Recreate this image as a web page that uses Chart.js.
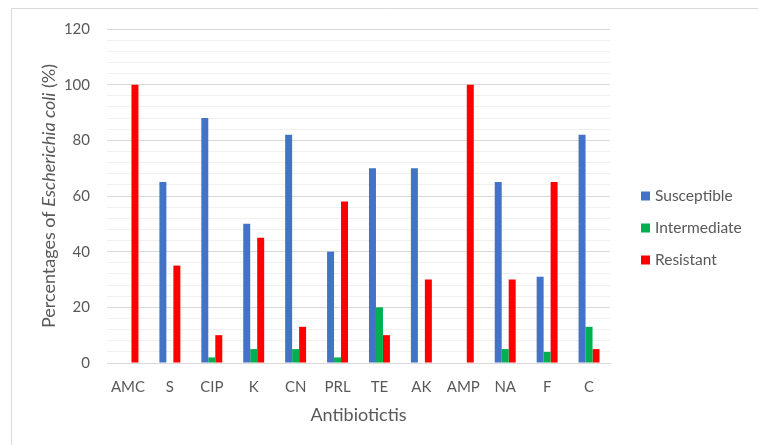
<!DOCTYPE html>
<html>
<head>
<meta charset="utf-8">
<script src="https://cdn.jsdelivr.net/npm/chart.js@4.4.1/dist/chart.umd.min.js"></script>
<style>
  html, body { margin: 0; padding: 0; background: #ffffff; }
  #wrap { position: relative; width: 758px; height: 445px; }
  canvas { display: block; }
</style>
</head>
<body>
<div id="wrap"><canvas id="chart" width="758" height="445"></canvas></div>
<script>
// Antibiotic susceptibility of Escherichia coli isolates (%)
const categories = ['AMC', 'S', 'CIP', 'K', 'CN', 'PRL', 'TE', 'AK', 'AMP', 'NA', 'F', 'C'];
const susceptible  = [0, 65, 88, 50, 82, 40, 70, 70, 0, 65, 31, 82];
const intermediate = [0, 0, 2, 5, 5, 2, 20, 0, 0, 5, 4, 13];
const resistant    = [100, 35, 10, 45, 13, 58, 10, 30, 100, 30, 65, 5];
const seriesNames  = ['Susceptible', 'Intermediate', 'Resistant'];
const yTickLabels  = [0, 20, 40, 60, 80, 100, 120];

const FONT = 'Lato, "Open Sans", sans-serif';
const TEXT = '#595959';

// Outer frame, axis titles (with italic species name) and the side legend
const decorations = {
  id: 'decorations',
  beforeDraw(chart) {
    const ctx = chart.ctx;
    ctx.save();
    ctx.strokeStyle = '#d9d9d9';
    ctx.lineWidth = 1;
    ctx.beginPath();
    ctx.moveTo(11.5, 445);
    ctx.lineTo(11.5, 8.5);
    ctx.lineTo(758, 8.5);
    ctx.stroke();
    ctx.restore();
  },
  afterDraw(chart) {
    const ctx = chart.ctx;
    const area = chart.chartArea;
    ctx.save();
    ctx.fillStyle = TEXT;
    ctx.textBaseline = 'middle';

    // x axis title
    ctx.font = '18px ' + FONT;
    ctx.textAlign = 'center';
    ctx.fillText('Antibiotictis', (area.left + area.right) / 2, 415);

    // y axis title, mixed upright / italic
    const parts = [
      { t: 'Percentages of ', f: '18px ' + FONT },
      { t: 'Escherichia coli', f: 'italic 18px ' + FONT },
      { t: ' (%)', f: '18px ' + FONT }
    ];
    let total = 0;
    parts.forEach(p => { ctx.font = p.f; p.w = ctx.measureText(p.t).width; total += p.w; });
    ctx.translate(49, (area.top + area.bottom) / 2);
    ctx.rotate(-Math.PI / 2);
    ctx.textAlign = 'left';
    let x = -total / 2;
    parts.forEach(p => { ctx.font = p.f; ctx.fillText(p.t, x, 0); x += p.w; });
    ctx.restore();

    // legend
    ctx.save();
    ctx.font = '15.5px ' + FONT;
    ctx.textAlign = 'left';
    ctx.textBaseline = 'middle';
    chart.data.datasets.forEach((ds, i) => {
      const cy = 196 + i * 32;
      ctx.fillStyle = ds.backgroundColor;
      ctx.fillRect(641, cy - 4.5, 9, 9);
      ctx.fillStyle = TEXT;
      ctx.fillText(ds.label, 655, cy);
    });
    ctx.restore();
  }
};

new Chart(document.getElementById('chart'), {
  type: 'bar',
  data: {
    labels: categories,
    datasets: [
      { label: seriesNames[0], data: susceptible,  backgroundColor: '#4472C4' },
      { label: seriesNames[1], data: intermediate, backgroundColor: '#00B050' },
      { label: seriesNames[2], data: resistant,    backgroundColor: '#FF0000' }
    ]
  },
  options: {
    responsive: false,
    animation: false,
    devicePixelRatio: 1,
    layout: { padding: { left: 0, top: 29, right: 148, bottom: 0 } },
    datasets: { bar: { categoryPercentage: 0.5, barPercentage: 1.0, borderWidth: 0 } },
    plugins: {
      legend: { display: false },
      tooltip: { enabled: false }
    },
    scales: {
      x: {
        afterFit(scale) { scale.height = 82; },
        grid: { display: false, drawTicks: false },
        border: { display: true, color: '#d9d9d9', width: 1 },
        ticks: { color: TEXT, font: { family: FONT, size: 15 }, padding: 15, maxRotation: 0, autoSkip: false }
      },
      y: {
        min: 0,
        max: 120,
        afterFit(scale) { scale.width = 107; },
        border: { display: false },
        grid: {
          drawTicks: false,
          color: (c) => (c.tick && c.tick.value % 20 === 0) ? '#d9d9d9' : '#f0f0f0',
          lineWidth: 1
        },
        ticks: {
          stepSize: 4,
          autoSkip: false,
          padding: 17,
          color: TEXT,
          font: { family: FONT, size: 15 },
          callback: (v) => yTickLabels.includes(v) ? String(v) : ''
        }
      }
    }
  },
  plugins: [decorations]
});
</script>
</body>
</html>
